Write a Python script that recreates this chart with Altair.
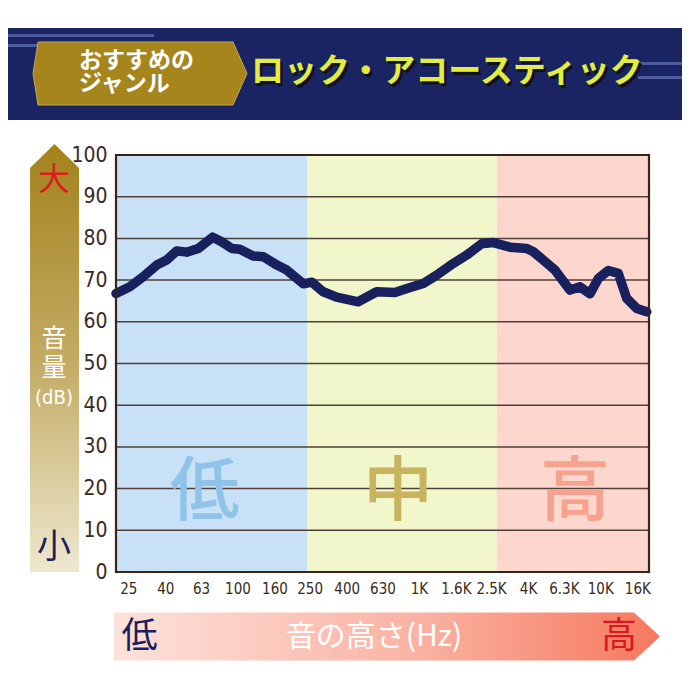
import altair as alt
import pandas as pd

# ---------------- data ----------------
freq_hz = [21.4, 25.5, 30.2, 35.9, 40.7, 46.2, 52.5, 60.8, 73.0, 81.8, 92.9, 103,
           122, 139, 165, 187, 231, 257, 297, 352, 463, 585, 738, 894, 1058,
           1254, 1548, 1835, 2220, 2573, 3180, 3930, 4275, 4855, 5630, 6812,
           7735, 8780, 9755, 11073, 12572, 13990, 15880, 18038]
level_db = [66.8, 68.4, 70.8, 73.6, 74.8, 77.0, 76.7, 77.6, 80.3, 79.2, 77.6, 77.4,
            75.8, 75.6, 73.6, 72.4, 69.1, 69.5, 67.2, 65.9, 64.8, 67.2, 67.0, 68.2, 69.2,
            71.2, 74.0, 76.0, 78.7, 79.0, 77.9, 77.6, 76.8, 74.8, 72.4, 67.6,
            68.4, 66.7, 70.4, 72.3, 71.6, 65.6, 63.2, 62.4]

tick_hz = [25, 40, 63, 100, 160, 250, 400, 630, 1000, 1600, 2500, 4000, 6300, 10000, 16000]
tick_labels = ["25", "40", "63", "100", "160", "250", "400", "630", "1K", "1.6K",
               "2.5K", "4K", "6.3K", "10K", "16K"]
y_ticks = [0, 10, 20, 30, 40, 50, 60, 70, 80, 90, 100]
grid_db = [10, 20, 30, 40, 50, 60, 70, 80, 90]

band_start_hz = [21.4, 243, 2690]
band_end_hz = [243, 2690, 18560]
band_names = ["低", "中", "高"]
band_label_hz = [66, 767, 7250]
band_label_db = [18.8, 18.8, 18.8]
band_fill = ["#c8e1f6", "#f1f7ca", "#fdd6cd"]
band_text_color = ["#8fc3ea", "#c8b45e", "#f7a18f"]

x_domain = [21.4, 18560]

curve = pd.DataFrame({"hz": freq_hz, "db": level_db})
bands = pd.DataFrame({"s": band_start_hz, "e": band_end_hz, "name": band_names,
                      "lx": band_label_hz, "ly": band_label_db,
                      "fill": band_fill, "tc": band_text_color})
grid = pd.DataFrame({"g": grid_db})
one = pd.DataFrame({"a": [0]})

label_expr = " : ".join(
    [f"datum.value == {v} ? '{t}'" for v, t in zip(tick_hz, tick_labels)]) + " : ''"

xscale = alt.Scale(type="log", domain=x_domain, nice=False, zero=False)
yscale = alt.Scale(domain=[0, 100], nice=False)

NARROW = "DejaVu Sans Condensed, Liberation Sans, sans-serif"
CJK = "Noto Sans CJK JP"

x_axis = alt.Axis(values=tick_hz, labelExpr=label_expr, title=None, ticks=False,
                  domain=False, grid=False, labelFont=NARROW, labelFontSize=15,
                  labelColor="#3b2a20", labelPadding=9, labelOverlap=False,
                  labelFlush=False)
y_axis = alt.Axis(values=y_ticks, title=None, ticks=False, domain=False, grid=False,
                  labelFont=NARROW, labelFontSize=21, labelColor="#3b2a20",
                  labelPadding=9, labelOverlap=False, labelFlush=False)

band_layer = alt.Chart(bands).mark_rect(opacity=1).encode(
    x=alt.X("s:Q", scale=xscale, axis=x_axis),
    x2="e:Q",
    y=alt.Y("y0:Q", scale=yscale, axis=y_axis),
    y2="y1:Q",
    fill=alt.Fill("fill:N", scale=None),
).transform_calculate(y0="0", y1="100")

grid_layer = alt.Chart(grid).mark_rule(color="#4f403a", strokeWidth=1.5).encode(
    y=alt.Y("g:Q", scale=yscale))

big_text = alt.Chart(bands).mark_text(font=CJK, fontSize=70, fontWeight=500,
                                      baseline="middle", align="center").encode(
    x=alt.X("lx:Q", scale=xscale), y=alt.Y("ly:Q", scale=yscale),
    text="name:N", fill=alt.Fill("tc:N", scale=None))

line_layer = alt.Chart(curve).mark_line(color="#18215e", strokeWidth=9.5,
                                        strokeJoin="round", strokeCap="round").encode(
    x=alt.X("hz:Q", scale=xscale), y=alt.Y("db:Q", scale=yscale))

frame = alt.Chart(one).mark_rect(filled=False, stroke="#3a2418", strokeWidth=2.2).encode(
    x=alt.value(0), x2=alt.value(533), y=alt.value(0), y2=alt.value(417))

# ---------------- decorations ----------------
banner = alt.Chart(one).mark_rect(color="#1a2462").encode(
    x=alt.value(-108), x2=alt.value(566), y=alt.value(-127), y2=alt.value(-35))

stripes = [
    alt.Chart(one).mark_rect(color="#4c5b9c").encode(
        x=alt.value(-108), x2=alt.value(38), y=alt.value(-121), y2=alt.value(-118)),
    alt.Chart(one).mark_rect(color="#4c5b9c").encode(
        x=alt.value(-108), x2=alt.value(-40), y=alt.value(-111), y2=alt.value(-108)),
    alt.Chart(one).mark_rect(color="#4c5b9c").encode(
        x=alt.value(522), x2=alt.value(566), y=alt.value(-93), y2=alt.value(-90)),
    alt.Chart(one).mark_rect(color="#4c5b9c").encode(
        x=alt.value(522), x2=alt.value(566), y=alt.value(-79), y2=alt.value(-76)),
]

gold_path = "M-102,-31.5 L93,-31.5 L107,0 L93,31.5 L-102,31.5 L-107,0 Z"
gold = alt.Chart(one).mark_point(shape=gold_path, size=4, filled=True, opacity=1,
                                 fill="#a7851d", stroke="#c7a84c", strokeWidth=1).encode(
    x=alt.value(24), y=alt.value(-81.5))

def txt(s, x, y, size, color, font=CJK, weight="normal", align="center", lh=None):
    kw = dict(text=s, font=font, fontSize=size, fontWeight=weight,
              color=color, align=align, baseline="middle")
    if lh is not None:
        kw["lineHeight"] = lh
    return alt.Chart(one).mark_text(**kw).encode(x=alt.value(x), y=alt.value(y))

hdr = txt(["おすすめの", "ジャンル"], -37, -94.5, 23, "white", weight="bold",
          align="left", lh=23.5)
title_shadow = txt("ロック・アコースティック", 137.5, -80.5, 33, "#111111", weight="bold", align="left")
title = txt("ロック・アコースティック", 135, -83, 33, "#e2ee3a", weight="bold", align="left")

vgrad = alt.Gradient(gradient="linear", x1=0, x2=0, y1=0, y2=1,
                     stops=[alt.GradientStop(color="#a3821c", offset=0),
                            alt.GradientStop(color="#c3aa62", offset=0.5),
                            alt.GradientStop(color="#eee8d0", offset=1)])
varrow_path = "M0,-214 L24.5,-190 L24.5,214 L-24.5,214 L-24.5,-190 Z"
varrow = alt.Chart(one).mark_point(shape=varrow_path, size=4, filled=True, opacity=1,
                                   fill=vgrad, strokeWidth=0).encode(
    x=alt.value(-61.5), y=alt.value(203))

hgrad = alt.Gradient(gradient="linear", x1=0, x2=1, y1=0, y2=0,
                     stops=[alt.GradientStop(color="#fde2db", offset=0),
                            alt.GradientStop(color="#fab3a3", offset=0.55),
                            alt.GradientStop(color="#f6785e", offset=1)])
harrow_path = "M-273,-24 L247,-24 L273,0 L247,24 L-273,24 Z"
harrow = alt.Chart(one).mark_point(shape=harrow_path, size=4, filled=True, opacity=1,
                                   fill=hgrad, strokeWidth=0).encode(
    x=alt.value(271), y=alt.value(481.5))

v_texts = [
    txt("大", -62, 25, 32, "#d81e1e"),
    txt(["音", "量"], -62, 184, 25, "white", lh=29),
    txt("(dB)", -62, 243, 20, "white", font=NARROW),
    txt("小", -62, 393, 34, "#1b1f5c"),
]
h_texts = [
    txt("低", 23.5, 482, 36, "#1b1f5c"),
    txt("音の高さ(Hz)", 258, 482, 30, "white"),
    txt("高", 503, 482, 36, "#d8191f"),
]

chart = alt.layer(
    banner, *stripes, gold, hdr, title_shadow, title,
    varrow, *v_texts, harrow, *h_texts,
    band_layer, grid_layer, big_text, line_layer, frame,
).properties(
    width=533, height=417,
    padding={"left": 108, "top": 147, "right": 33, "bottom": 110},
    autosize=alt.AutoSizeParams(type="none"),
    background="white",
).configure_view(stroke=None)

chart.save("out.html", embed_options={"renderer": "svg", "actions": False})
